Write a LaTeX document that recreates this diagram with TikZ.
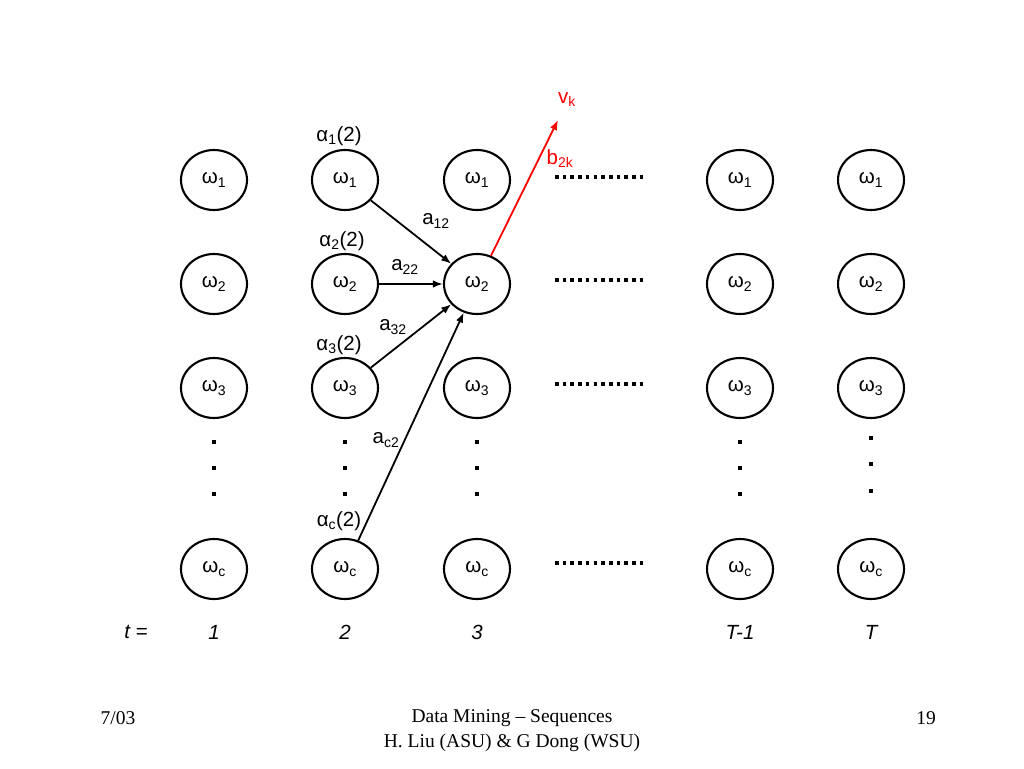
\documentclass[tikz,border=0pt]{standalone}
\usepackage{fontspec}
\setmainfont{Liberation Sans}
\newfontfamily\footfont{Liberation Serif}
\usetikzlibrary{shapes.geometric,arrows.meta}
\tikzset{
  st/.style={ellipse,draw,line width=2.1pt,minimum width=66pt,minimum height=60pt,inner sep=0pt,font=\fontsize{20.5}{24}\selectfont},
  lbl/.style={inner sep=0pt,font=\fontsize{20.5}{24}\selectfont},
  arr/.style={line width=1.8pt,-{Latex[length=10pt,width=7.5pt]}},
  dotrow/.style={line width=3.6pt,dash pattern=on 3.6pt off 4.1pt},
  vdot/.style={fill,minimum size=3.6pt,inner sep=0pt,draw=none,rectangle},
  foot/.style={inner sep=0pt,font=\footfont\fontsize{19.5}{22}\selectfont}
}
\newcommand{\sbs}[1]{\textsubscript{\fontsize{14}{15}\selectfont #1}}
\begin{document}
\begin{tikzpicture}[x=1pt,y=-1pt]
\useasboundingbox (0,0) rectangle (1024,768);
\fill[white] (0,0) rectangle (1024,768);
% columns
\foreach \c/\x in {1/214,2/345,3/477,4/740,5/871}{
  \node[st] (n\c1) at (\x,180) {ω\sbs{1}};
  \node[st] (n\c2) at (\x,284) {ω\sbs{2}};
  \node[st] (n\c3) at (\x,388) {ω\sbs{3}};
  \node[st] (n\c4) at (\x,569) {ω\sbs{c}};
}
% vertical dots
\foreach \x in {214,345,477,740}{
  \node[vdot] (d\x a) at (\x,442) {};
  \node[vdot] (d\x b) at (\x,468) {};
  \node[vdot] (d\x c) at (\x,494) {};
}
\node[vdot] (dTa) at (871,438) {};
\node[vdot] (dTb) at (871,464) {};
\node[vdot] (dTc) at (871,491) {};
% horizontal dotted rows
\foreach \y/\n in {177/1,280/2,384/3,563/4}{
  \coordinate (hs\n) at (555,\y);
  \coordinate (he\n) at (643,\y);
  \draw[dotrow] (hs\n) -- (he\n);
}
% alpha labels
\node[lbl] (al1) at (339,136) {α\sbs{1}(2)};
\node[lbl] (al2) at (342,241) {α\sbs{2}(2)};
\node[lbl] (al3) at (339,345) {α\sbs{3}(2)};
\node[lbl] (alc) at (339,521) {α\sbs{c}(2)};
% transitions
\draw[arr] (n21) -- (n32);
\draw[arr] (n22) -- (n32);
\draw[arr] (n23) -- (n32);
\draw[arr] (n24) -- (n32);
\node[lbl] (a12) at (436,221) {a\sbs{12}};
\node[lbl] (a22) at (405,267) {a\sbs{22}};
\node[lbl] (a32) at (393,327) {a\sbs{32}};
\node[lbl] (ac2) at (386,440) {a\sbs{c2}};
% emission
\node[lbl,text=red] (vk) at (567,100) {v\sbs{k}};
\coordinate (vkt) at (558,120);
\draw[arr,red] (n32) -- (vkt);
\node[lbl,text=red] (b2k) at (560,159) {b\sbs{2k}};
% time labels
\node[lbl,font=\itshape\fontsize{20.5}{24}\selectfont] (teq) at (136,632) {t =};
\foreach \x/\t [count=\i] in {214/1,345/2,477/3,740/T-1,871/T}{
  \node[lbl,font=\itshape\fontsize{20.5}{24}\selectfont] (t\i) at (\x,632) {\t};
}
% footer
\node[foot] (fd) at (118,718) {7/03};
\node[foot] (ft) at (512,718) {Data Mining – Sequences};
\node[foot] (fa) at (512,743) {H. Liu (ASU) \& G Dong (WSU)};
\node[foot] (fp) at (926,718) {19};
\end{tikzpicture}
\end{document}
